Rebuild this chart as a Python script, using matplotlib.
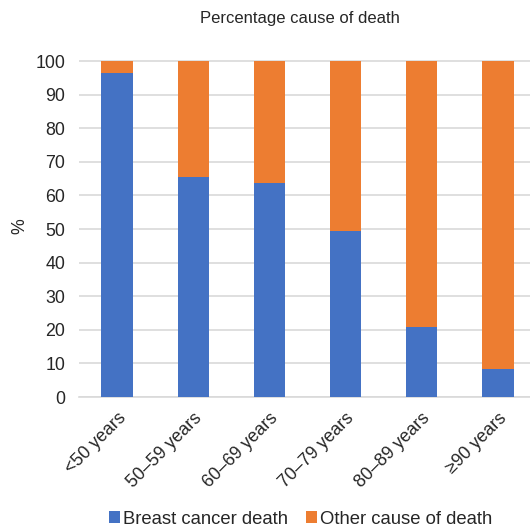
import numpy as np
import matplotlib.pyplot as plt

plt.rcParams['font.family'] = ['Liberation Sans', 'DejaVu Sans']

# Share of deaths per age group (%)
age_groups = ['<50 years', '50–59 years', '60–69 years', '70–79 years', '80–89 years', '≥90 years']
breast_cancer = [96.5, 65.5, 63.8, 49.4, 20.8, 8.3]
other_cause = [100 - v for v in breast_cancer]

blue = '#4472c4'
orange = '#ed7d31'

fig = plt.figure(figsize=(5.30, 5.31), dpi=100)
ax = fig.add_axes([79 / 530, 1 - 397 / 531, 457 / 530, 341 / 531])

x = np.arange(len(age_groups))
ax.bar(x, breast_cancer, width=0.41, color=blue, label='Breast cancer death', zorder=3)
ax.bar(x, other_cause, width=0.41, bottom=breast_cancer, color=orange,
       label='Other cause of death', zorder=3)

ax.set_xlim(-0.5, len(age_groups) - 0.5)
ax.set_ylim(0, 101.5)
ax.set_yticks(np.arange(0, 101, 10))
ax.yaxis.grid(True, color='#d9d9d9', linewidth=1.2, zorder=0)
for side in ['top', 'right', 'left']:
    ax.spines[side].set_visible(False)
ax.spines['bottom'].set_color('#d9d9d9')
ax.spines['bottom'].set_linewidth(1.2)
ax.tick_params(axis='both', length=0, labelsize=12.8, colors='#262626')
ax.tick_params(axis='y', pad=10)

ax.set_xticks(x)
ax.set_xticklabels(age_groups, rotation=45, ha='right', rotation_mode='anchor')
ax.tick_params(axis='x', pad=9)

ax.set_ylabel('%', fontsize=12.8, color='#262626', labelpad=5)
fig.text(0.565, 0.966, 'Percentage cause of death', ha='center', va='center',
         fontsize=12, color='#262626')

fig.legend(loc='center', bbox_to_anchor=(0.567, 0.022), ncol=2, frameon=False,
           fontsize=13.3, handlelength=0.6, handleheight=0.6, handletextpad=0.15,
           columnspacing=1.0, labelcolor='#262626')

fig.savefig('out.png', dpi=100)
